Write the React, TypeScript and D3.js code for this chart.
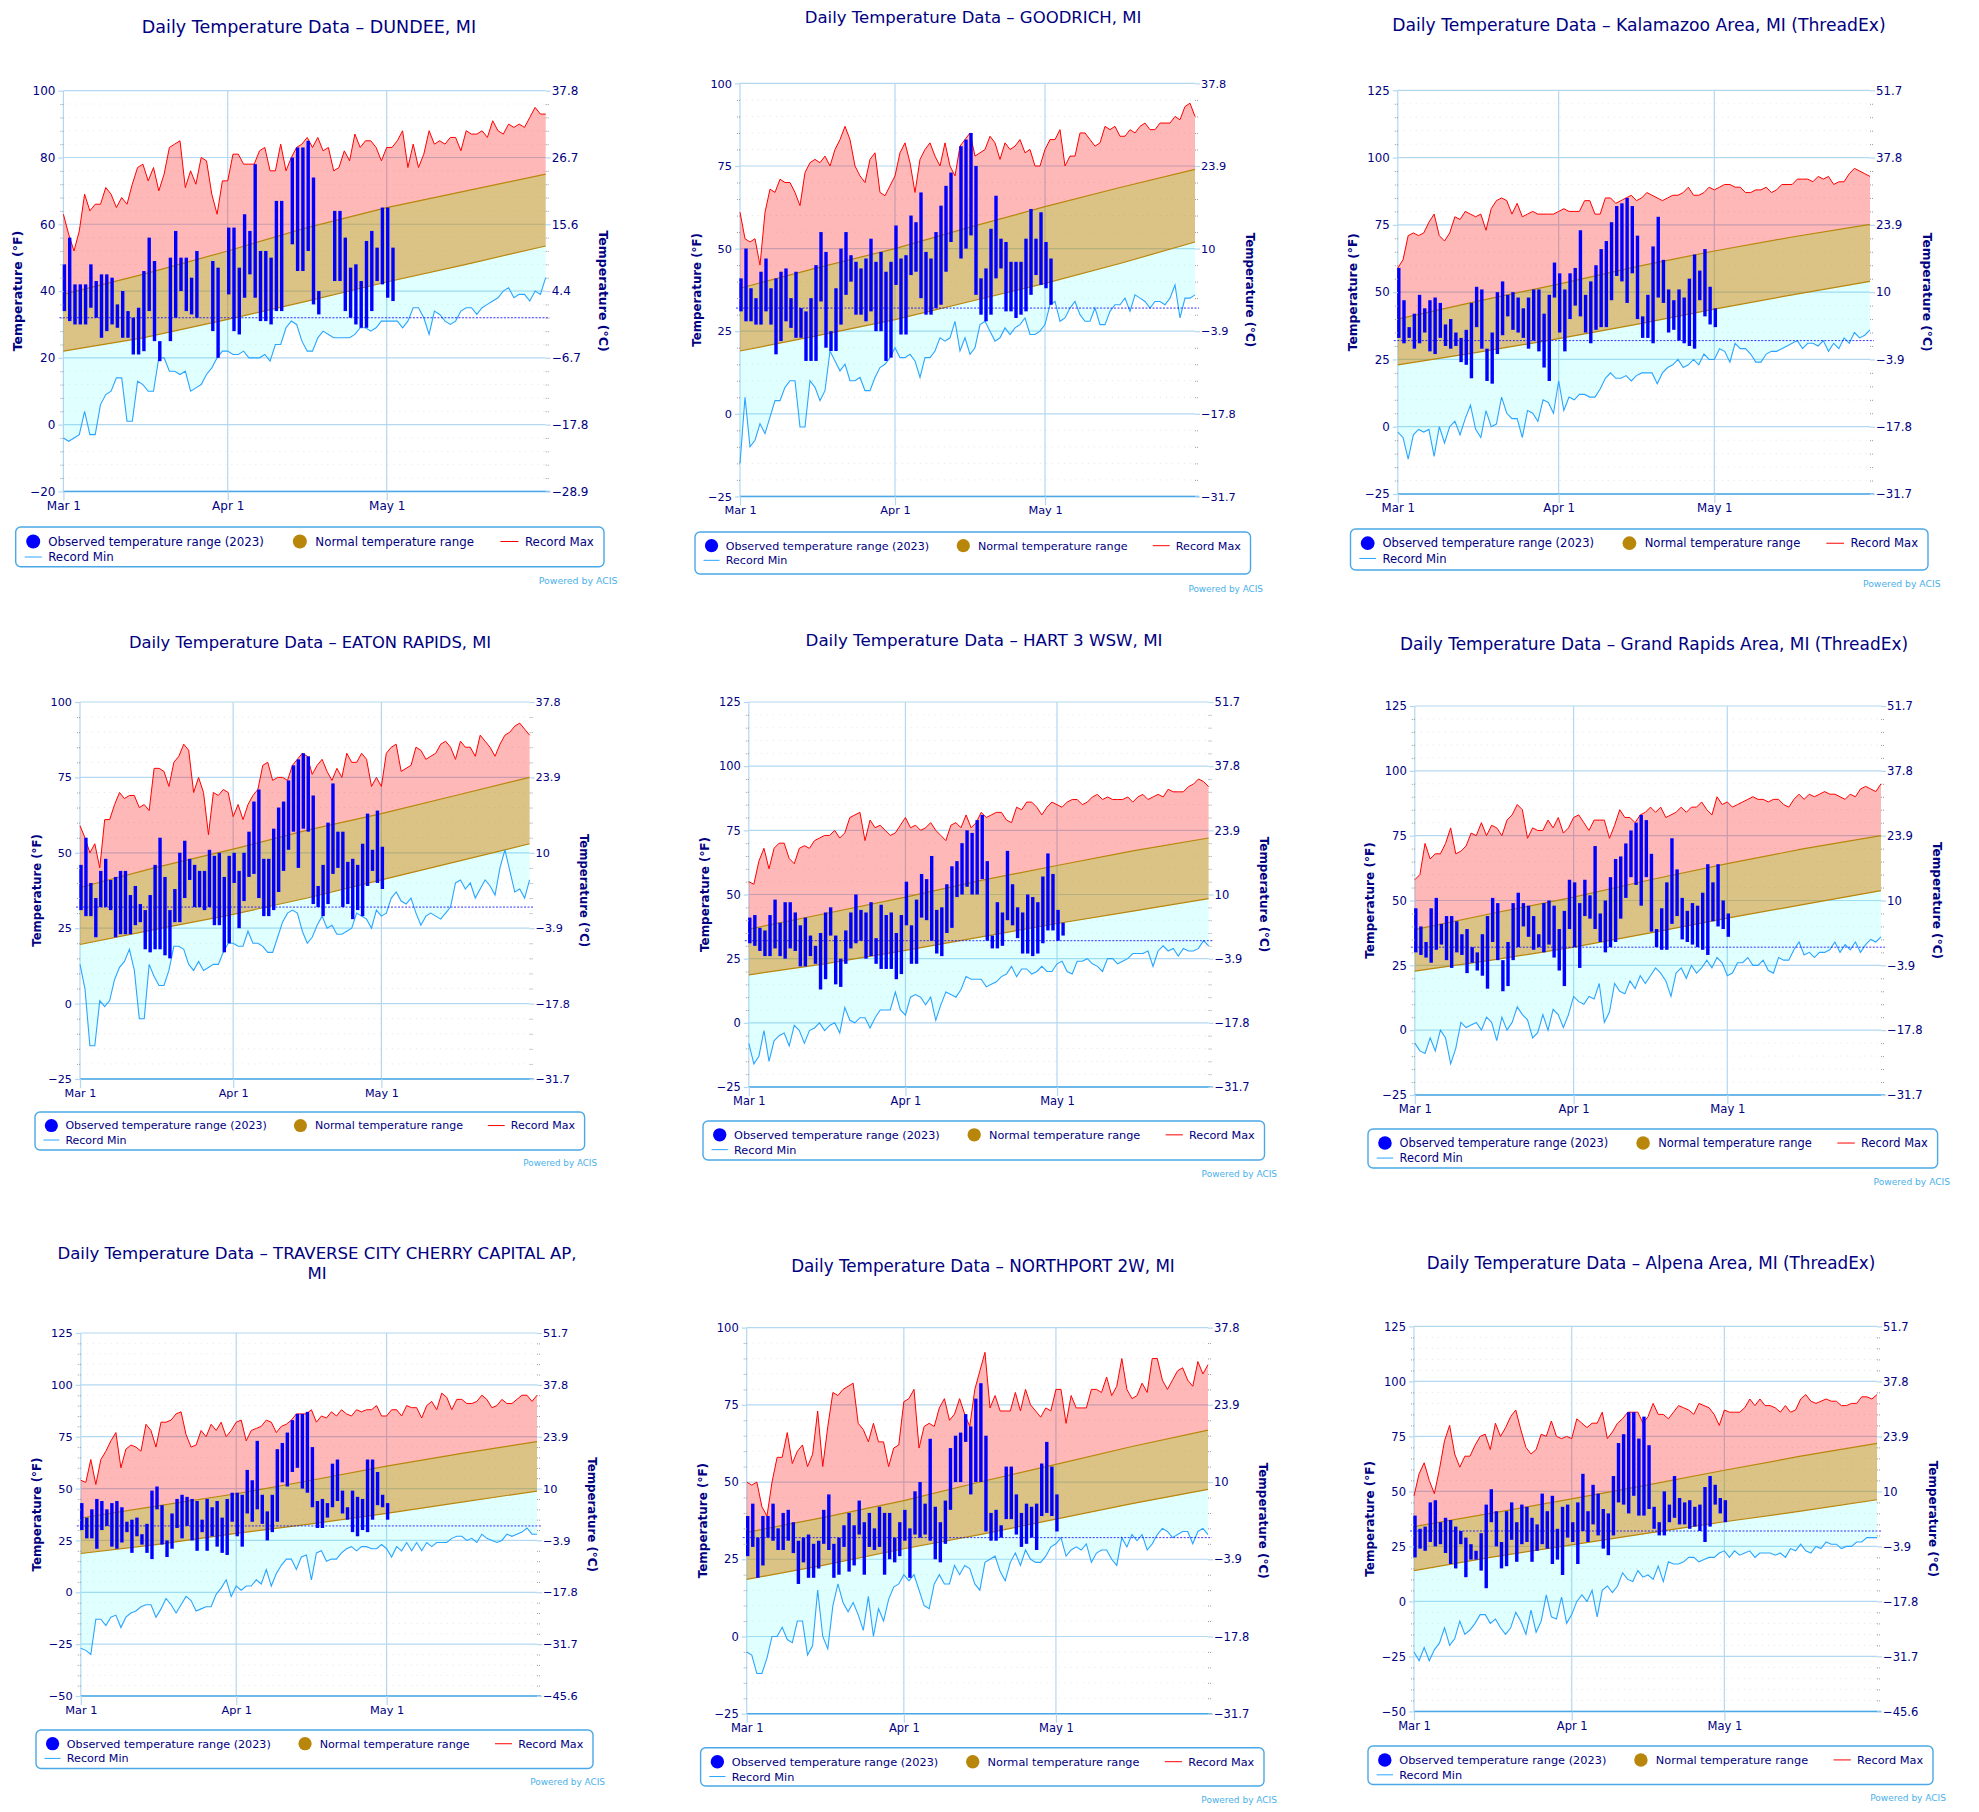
import React, { useRef, useEffect } from 'react';
import * as d3 from 'd3';

// normals are read at these day indexes (0 = Mar 1, 91 = May 31)
const normalDays = [0, 15, 31, 46, 61, 76, 91];
const dateTickDays = [0, 31, 61];
const dateTickLabels = ['Mar 1', 'Apr 1', 'May 1'];

const dundeeMax = [63,57,52,58,69,64,66,66,71,69,65,68,66,72,77,78,73,77,70,75,83,84,85,71,76,72,80,79,69,63,73,73,81,81,78,78,78,82,83,76,76,84,76,80,83,84,86,83,86,82,83,76,77,82,79,87,83,85,85,83,79,83,83,85,88,77,84,77,81,88,84,85,84,86,86,82,88,87,87,88,86,91,88,87,90,89,90,89,92,95,93,93];
const dundeeMin = [-4,-5,-4,-3,4,-3,-3,6,9,10,14,14,1,1,13,12,10,10,20,20,16,16,15,16,10,11,12,15,17,20,22,22,21,21,22,20,20,20,21,19,24,24,29,31,30,25,22,22,26,28,27,26,26,26,26,27,29,29,28,29,31,31,31,31,29,31,35,35,32,27,34,33,31,30,31,34,35,35,33,35,36,37,38,40,41,38,39,39,37,40,39,44];
const dundeeObsHi = [48,56,42,42,42,48,43,45,45,44,36,40,34,32,35,46,56,49,25,null,50,58,50,50,44,52,null,null,49,47,null,59,59,47,63,58,78,52,52,50,67,67,null,80,83,83,85,74,40,null,null,64,64,56,47,48,43,55,58,53,65,65,53];
const dundeeObsLo = [34,31,30,30,30,35,32,26,28,30,29,26,26,21,21,22,34,25,19,null,25,32,40,34,33,32,null,null,28,20,null,39,28,27,38,45,38,31,31,30,34,34,null,54,46,46,52,36,33,null,null,43,43,34,32,30,29,29,34,43,42,38,37];
const dundeeNormHi = [39,45,52,59,65,70,75];
const dundeeNormLo = [22,26,31.5,37,42.7,48,53.5];

const goodrichMax = [61,53,52,53,45,61,68,67,71,70,70,67,63,73,76,77,76,78,75,80,83,87,83,75,72,70,77,79,67,66,69,72,79,82,76,67,77,80,82,78,75,82,75,72,81,83,85,78,79,80,84,82,77,82,80,81,83,79,80,75,75,80,83,83,86,75,78,78,85,85,83,81,82,87,86,87,84,84,86,85,87,88,86,86,88,88,88,90,89,93,94,90];
const goodrichMin = [-15,5,-10,-8,-3,-6,-1,4,4,8,10,10,-4,-4,10,8,4,7,19,16,13,15,10,10,11,7,7,11,14,15,17,20,17,17,18,16,11,17,17,19,23,22,23,28,19,23,18,20,27,28,25,22,23,26,24,26,27,29,24,24,25,27,33,34,28,29,32,34,30,28,28,32,27,27,31,33,33,35,31,36,35,34,32,34,34,33,35,39,29,35,35,36];
const goodrichObsHi = [41,50,38,35,43,47,38,41,43,44,35,43,32,31,35,45,55,49,25,38,50,55,48,46,44,47,53,46,49,43,46,57,47,48,60,58,67,49,47,55,63,69,73,null,81,83,85,75,41,44,56,66,53,52,46,46,46,53,62,53,61,52,47];
const goodrichObsLo = [31,28,28,27,27,31,27,18,22,28,26,23,23,16,16,16,34,20,19,19,27,36,40,30,30,28,31,25,25,16,17,39,24,24,42,43,35,30,30,32,33,43,52,null,47,50,54,36,30,28,30,41,44,31,31,29,30,31,36,42,39,38,33];
const goodrichNormHi = [38,44,50,56.5,62.7,68.5,74];
const goodrichNormLo = [19,23.5,28.5,34,39.5,45.5,52];

const kalamazooMax = [59,62,71,72,71,72,76,79,71,69,72,78,77,80,79,78,79,73,81,84,85,84,79,83,78,79,80,79,79,79,79,80,81,80,80,80,84,84,79,79,85,85,83,84,85,86,84,85,87,86,85,84,85,86,86,87,89,86,86,87,89,88,89,90,90,89,89,87,87,88,88,89,87,88,90,90,90,92,92,92,91,93,92,93,90,91,91,94,96,95,94,93];
const kalamazooMin = [-2,-4,-12,-3,-1,-2,-1,-11,0,-6,0,2,-3,3,8,-1,-4,6,0,1,11,5,3,3,-4,6,5,2,10,9,5,17,6,11,10,12,12,11,11,14,18,20,18,18,19,17,19,20,20,20,16,20,22,23,25,22,23,25,23,27,25,25,29,28,24,31,29,29,27,24,24,27,28,28,29,30,31,32,29,31,31,30,32,28,31,29,33,31,35,33,34,36];
const kalamazooObsHi = [59,47,37,42,49,44,47,48,46,38,40,35,33,36,46,52,51,29,35,50,54,49,50,48,44,48,51,51,42,49,61,57,51,57,59,73,49,54,60,66,69,76,82,83,85,82,71,41,49,67,78,62,51,47,51,48,55,64,58,66,52,44];
const kalamazooObsLo = [33,31,33,29,31,35,28,27,33,30,29,30,24,23,18,37,29,17,16,27,34,41,36,35,33,29,32,28,22,17,48,35,28,40,45,41,35,31,36,37,37,47,56,54,46,57,40,33,33,31,48,46,35,36,32,31,30,29,47,41,38,37];
const kalamazooNormHi = [40,46.5,53,59.5,65.3,70.5,75.2];
const kalamazooNormLo = [23,27.5,32.7,38,43.7,49,54];

const eatonMax = [59,55,50,53,45,61,61,66,70,68,69,69,65,66,64,78,78,77,72,80,82,86,84,70,75,70,56,70,69,71,70,62,66,61,66,69,71,79,80,74,75,75,74,79,81,83,82,76,79,81,77,74,78,75,83,80,80,83,81,72,75,72,83,85,86,77,78,79,85,84,81,82,83,86,87,85,81,87,85,85,82,89,87,85,82,86,89,90,92,93,91,89];
const eatonMin = [13,5,-14,-14,1,-1,1,8,12,14,18,11,-5,-5,13,9,6,6,11,19,19,18,13,11,14,11,12,13,13,17,20,20,19,19,24,20,20,19,17,17,22,27,30,31,30,24,20,22,26,29,25,26,23,23,24,25,30,29,28,25,31,29,30,35,37,34,33,35,30,26,29,30,29,28,30,32,40,41,38,40,35,38,41,39,36,45,51,44,37,38,35,41];
const eatonObsHi = [46,55,40,35,44,48,41,42,44,44,36,39,33,31,36,46,55,42,31,38,50,54,48,46,44,44,51,49,50,42,49,50,44,50,57,67,71,48,48,58,65,67,74,79,81,83,82,69,39,46,60,73,57,57,47,48,46,53,63,51,64,52];
const eatonObsLo = [31,29,29,22,32,32,31,22,23,23,23,26,27,18,17,18,18,16,15,27,27,35,41,32,32,31,32,26,26,17,20,40,25,34,42,43,35,29,29,31,37,44,51,57,45,58,57,33,32,29,33,43,45,32,33,28,31,29,39,44,40,38];
const eatonNormHi = [38.5,45,51.2,57.5,63,69,75];
const eatonNormLo = [19.6,24.5,29.6,35,41,47,53];

const hartMax = [55,54,63,68,60,68,70,70,64,62,68,69,68,71,72,73,73,75,72,74,80,81,82,71,79,76,77,75,73,74,77,80,76,77,75,76,78,75,73,71,77,78,76,81,76,78,82,80,81,82,82,79,78,84,83,86,86,84,81,84,86,85,84,86,87,87,85,86,88,89,87,88,87,87,87,88,86,88,89,87,88,89,88,91,90,90,90,92,93,95,94,92];
const hartMin = [-8,-16,-13,-3,-15,-7,-5,-4,-9,-1,-3,-8,-3,-2,0,-3,-1,0,-4,6,1,0,2,2,-2,2,5,5,5,12,5,3,10,11,10,7,10,1,7,12,11,10,13,18,17,17,17,14,15,16,18,19,22,18,21,21,19,20,22,20,20,23,24,20,19,24,24,25,23,22,20,25,25,23,24,25,27,27,27,28,22,28,30,28,29,26,29,28,28,29,32,30];
const hartObsHi = [41,42,37,36,42,48,39,47,47,43,38,41,34,30,35,43,45,34,25,36,43,50,44,43,47,33,46,42,43,35,42,55,38,48,58,56,65,44,45,54,61,63,70,75,74,79,81,63,34,47,43,67,54,45,43,50,49,47,57,66,58,44,39];
const hartObsLo = [31,30,28,26,26,29,26,25,29,28,22,22,26,23,13,17,34,15,14,23,29,31,32,25,26,23,21,21,21,17,19,38,23,23,41,40,32,27,26,35,37,49,50,53,50,50,56,32,29,29,30,40,38,33,27,27,26,27,31,36,36,32,34];
const hartNormHi = [36.5,42.5,49,55.5,61.3,67,72];
const hartNormLo = [18.7,23,28.2,33.5,38.7,43.5,48.4];

const grandRapidsMax = [58,60,72,66,68,68,72,78,68,69,71,76,75,80,75,79,78,75,81,83,87,85,74,78,77,77,81,78,82,76,78,82,83,80,77,81,81,81,74,79,85,82,82,80,83,84,86,84,86,82,83,84,86,84,86,86,88,85,83,90,87,88,86,87,88,89,90,89,89,88,89,89,87,86,89,91,89,91,90,91,92,91,91,90,89,91,90,93,94,93,92,95];
const grandRapidsMin = [-5,-8,-9,-3,-8,0,-3,-13,-7,3,1,2,3,0,5,3,-4,5,0,3,9,6,4,-3,-1,6,0,8,6,1,6,13,11,10,13,12,18,3,7,18,15,14,19,16,21,18,21,24,22,19,13,22,24,20,25,22,24,27,24,28,26,21,22,26,26,28,25,25,27,23,22,28,27,27,31,34,29,30,28,30,30,31,34,30,33,31,34,30,33,35,34,36];
const grandRapidsObsHi = [47,40,34,47,51,41,44,44,42,37,39,32,30,37,44,51,49,27,34,49,53,49,48,44,37,49,50,48,39,46,58,57,49,58,52,71,45,50,59,66,67,72,77,80,83,81,68,39,47,57,74,62,51,46,49,48,53,64,57,64,50,45];
const grandRapidsObsLo = [30,29,28,26,31,33,27,24,30,29,22,26,23,21,16,34,27,15,17,27,32,40,36,31,32,30,33,28,23,17,39,32,24,44,43,39,34,30,32,34,43,51,59,56,48,59,38,32,31,31,41,44,35,34,33,32,31,29,42,40,39,36];
const grandRapidsNormHi = [38.8,45,51.3,58,64.2,70,75];
const grandRapidsNormLo = [22.8,27,32,37.5,43.2,48.5,53.8];

const traverseMax = [54,53,64,52,64,68,73,77,60,69,71,70,68,81,78,70,82,82,83,86,87,76,70,71,78,75,81,78,82,75,78,82,83,73,78,79,80,83,82,77,80,81,83,86,86,86,88,82,85,84,87,85,88,86,85,88,87,88,88,90,85,85,88,88,85,90,89,89,84,90,92,88,96,94,88,93,93,91,91,92,95,93,89,90,93,91,91,93,95,95,92,95];
const traverseMin = [-27,-28,-30,-13,-13,-16,-12,-11,-17,-12,-10,-9,-7,-6,-6,-12,-8,-3,-6,-10,-6,-2,-4,-9,-8,-7,-7,-1,2,6,-2,3,1,3,3,6,4,11,3,9,13,16,16,11,17,18,6,19,20,15,16,16,19,21,22,20,22,22,21,21,23,21,17,22,20,24,20,24,20,24,22,24,24,24,26,27,27,25,26,24,28,26,25,24,25,28,27,28,29,31,28,28];
const traverseObsHi = [43,36,40,45,44,40,43,44,41,34,35,36,28,33,49,51,42,25,38,45,47,46,45,44,35,45,41,44,36,45,48,48,47,59,54,73,47,39,47,69,72,77,83,86,86,87,70,44,45,43,62,64,49,41,49,46,45,64,64,58,47,43];
const traverseObsLo = [30,26,26,21,30,32,22,21,24,29,19,27,23,19,16,40,23,17,21,31,26,32,25,20,29,20,27,22,19,18,34,27,22,38,34,40,33,25,29,34,53,51,58,60,50,48,41,31,31,36,41,44,38,35,29,27,30,29,35,42,41,35];
const traverseNormHi = [35.8,41.5,47.5,54,60.8,67,72.6];
const traverseNormLo = [18.7,23,28.4,33,38,43.5,48.8];

const northportMax = [50,49,50,42,39,50,58,58,66,56,60,62,55,59,73,55,68,79,78,80,81,82,69,67,63,69,63,63,55,61,62,76,77,80,61,68,69,68,74,77,70,72,77,72,68,80,86,92,74,78,73,73,73,79,73,80,75,73,71,74,73,80,80,69,78,74,74,74,80,80,79,84,78,81,90,80,77,78,82,79,90,90,83,80,83,86,87,83,81,89,85,88];
const northportMin = [-5,-6,-12,-12,-7,0,0,3,-1,-2,5,5,-6,-3,15,0,-4,10,17,11,8,11,7,2,13,0,9,5,12,16,17,20,18,20,15,10,9,17,20,17,17,23,20,23,22,17,15,24,25,26,21,18,24,27,23,28,25,24,24,26,29,30,32,26,28,29,28,30,24,27,28,28,25,23,32,29,33,31,33,28,30,33,35,34,32,33,34,34,30,34,35,33];
const northportObsHi = [39,43,32,39,39,43,35,40,41,37,31,32,33,30,31,41,46,30,32,36,40,36,44,37,40,35,42,40,40,32,37,41,35,47,50,43,64,42,37,44,61,65,66,72,68,77,82,65,40,41,36,55,55,46,40,43,42,43,56,63,55,46];
const northportObsLo = [26,29,19,23,32,31,28,28,31,27,17,24,19,19,22,30,28,19,20,29,21,23,33,20,29,28,29,20,25,24,26,31,19,33,32,33,31,25,24,30,41,50,50,63,46,50,50,34,31,31,32,38,38,33,29,30,32,28,39,40,39,34];
const northportNormHi = [33.7,38.5,44,50,55.7,61.5,66.8];
const northportNormLo = [18.5,23,28.4,33,38,43,47.6];

const alpenaMax = [48,58,63,55,49,60,73,80,67,61,66,66,71,75,76,69,81,75,79,84,87,78,70,67,69,76,75,82,75,74,75,74,83,81,79,81,81,86,74,77,81,83,86,86,86,81,84,90,85,85,83,86,89,88,87,85,90,89,88,85,80,87,86,86,86,88,92,89,92,89,89,88,86,89,86,87,92,94,91,90,91,92,91,91,89,89,90,90,93,93,92,94];
const alpenaMin = [-23,-27,-21,-27,-22,-19,-12,-20,-17,-9,-15,-13,-10,-6,-6,-10,-8,-12,-15,-12,-5,-9,-15,-4,-14,-9,3,-7,-8,2,-10,-6,0,3,0,5,-7,5,7,4,7,13,10,9,14,11,12,10,16,9,18,17,17,18,20,20,18,19,20,20,22,23,20,23,21,22,23,20,22,22,22,21,22,20,24,23,26,23,22,25,24,27,26,26,24,25,25,27,27,29,29,29];
const alpenaObsHi = [39,33,34,45,46,36,38,37,34,32,29,26,23,31,44,51,41,27,41,45,36,44,43,38,35,49,41,48,33,43,44,36,45,58,41,53,49,42,40,57,72,76,86,86,74,84,71,43,36,50,44,57,47,45,46,43,44,52,57,53,47,46];
const alpenaObsLo = [20,24,23,27,25,26,22,17,15,26,11,19,19,14,6,36,25,15,16,28,18,26,27,18,23,26,24,17,19,12,29,27,17,32,27,35,30,24,21,30,45,44,40,48,39,39,42,33,30,30,36,38,35,35,33,34,32,27,34,44,40,36];
const alpenaNormHi = [34,40,46.6,53,59.6,66,71.8];
const alpenaNormLo = [14,20,25.7,31,36.2,41,46.2];

// page position of every chart
const panels = [
  { title: ['Daily Temperature Data – DUNDEE, MI'], ty: [27], tx: 309, domain: [-20, 100], step: 20, plot: [63.4, 90.7, 545.7, 491.4], legend: [15.7, 527, 604, 566.8], acis: [617.6, 581], max: dundeeMax, min: dundeeMin, hi: dundeeObsHi, lo: dundeeObsLo, nHi: dundeeNormHi, nLo: dundeeNormLo },
  { title: ['Daily Temperature Data – GOODRICH, MI'], ty: [17.6], tx: 973, domain: [-25, 100], step: 25, plot: [740, 83.4, 1195, 496.4], legend: [695, 532, 1250.5, 574], acis: [1263, 588.6], max: goodrichMax, min: goodrichMin, hi: goodrichObsHi, lo: goodrichObsLo, nHi: goodrichNormHi, nLo: goodrichNormLo },
  { title: ['Daily Temperature Data – Kalamazoo Area, MI (ThreadEx)'], ty: [25], tx: 1639, domain: [-25, 125], step: 25, plot: [1397.8, 90.3, 1870, 494], legend: [1350.5, 529, 1928, 570], acis: [1940.5, 584], max: kalamazooMax, min: kalamazooMin, hi: kalamazooObsHi, lo: kalamazooObsLo, nHi: kalamazooNormHi, nLo: kalamazooNormLo },
  { title: ['Daily Temperature Data – EATON RAPIDS, MI'], ty: [642], tx: 310, domain: [-25, 100], step: 25, plot: [80, 702, 529.6, 1079], legend: [35, 1112, 584.6, 1150], acis: [597, 1163], max: eatonMax, min: eatonMin, hi: eatonObsHi, lo: eatonObsLo, nHi: eatonNormHi, nLo: eatonNormLo },
  { title: ['Daily Temperature Data – HART 3 WSW, MI'], ty: [640.6], tx: 984, domain: [-25, 125], step: 25, plot: [748.8, 702, 1208.6, 1087], legend: [703, 1121, 1264.5, 1160], acis: [1277, 1174], max: hartMax, min: hartMin, hi: hartObsHi, lo: hartObsLo, nHi: hartNormHi, nLo: hartNormLo },
  { title: ['Daily Temperature Data – Grand Rapids Area, MI (ThreadEx)'], ty: [643.7], tx: 1654, domain: [-25, 125], step: 25, plot: [1414.8, 706, 1881, 1095], legend: [1368, 1129, 1937.6, 1168], acis: [1950, 1182], max: grandRapidsMax, min: grandRapidsMin, hi: grandRapidsObsHi, lo: grandRapidsObsLo, nHi: grandRapidsNormHi, nLo: grandRapidsNormLo },
  { title: ['Daily Temperature Data – TRAVERSE CITY CHERRY CAPITAL AP,', 'MI'], ty: [1253, 1273], tx: 317, domain: [-50, 125], step: 25, plot: [80.8, 1333, 537, 1696], legend: [36, 1730, 593, 1768.5], acis: [605, 1782], max: traverseMax, min: traverseMin, hi: traverseObsHi, lo: traverseObsLo, nHi: traverseNormHi, nLo: traverseNormLo },
  { title: ['Daily Temperature Data – NORTHPORT 2W, MI'], ty: [1266], tx: 983, domain: [-25, 100], step: 25, plot: [746.7, 1327.6, 1208, 1713.7], legend: [700.6, 1747.8, 1264, 1786], acis: [1277, 1800], max: northportMax, min: northportMin, hi: northportObsHi, lo: northportObsLo, nHi: northportNormHi, nLo: northportNormLo },
  { title: ['Daily Temperature Data – Alpena Area, MI (ThreadEx)'], ty: [1263], tx: 1651, domain: [-50, 125], step: 25, plot: [1414, 1326.4, 1877, 1711.4], legend: [1368, 1746, 1933, 1784.5], acis: [1946, 1798], max: alpenaMax, min: alpenaMin, hi: alpenaObsHi, lo: alpenaObsLo, nHi: alpenaNormHi, nLo: alpenaNormLo },
];

const NAVY = '#000080';
const GRID = '#b4d8f0';
const EDGE = '#4aa8e6';
const FONT = '"DejaVu Sans", sans-serif';

const minus = (s: string) => s.replace('-', '\u2212');
const toC = (f: number) => minus(String(+((f - 32) * 5 / 9).toFixed(1)));

const drawPanel = (svg: any, p: any) => {
  const [left, top, right, bottom] = p.plot;
  const s = (p.legend[2] - p.legend[0]) / 588;
  const x = d3.scaleLinear().domain([0, 91]).range([left, right]);
  const y = d3.scaleLinear().domain(p.domain).range([bottom, top]);
  const majors = d3.range(p.domain[0], p.domain[1] + 1, p.step);
  const minors = d3.range(p.domain[0], p.domain[1] + 1, p.step / 5).filter(v => !majors.includes(v));
  const g = svg.append('g');

  // dotted minor grid + major grid
  g.append('g').selectAll('line').data(minors).enter().append('line')
    .attr('x1', left).attr('x2', right).attr('y1', d => y(d)).attr('y2', d => y(d))
    .attr('stroke', '#e6e6e6').attr('stroke-dasharray', '1,5');
  g.append('g').selectAll('line').data(majors).enter().append('line')
    .attr('x1', left).attr('x2', right).attr('y1', d => y(d)).attr('y2', d => y(d))
    .attr('stroke', GRID).attr('stroke-width', 1.2);
  g.append('g').selectAll('line').data(dateTickDays).enter().append('line')
    .attr('x1', d => x(d)).attr('x2', d => x(d)).attr('y1', top).attr('y2', bottom)
    .attr('stroke', GRID).attr('stroke-width', 1.2);

  const line = d3.line();
  const dayPts = (vals: number[]) => vals.map((v, i) => [x(i), y(v)]);
  const normPts = (vals: number[]) => vals.map((v, i) => [x(normalDays[i]), y(v)]);

  g.append('path').attr('d', line([...dayPts(p.max), ...normPts(p.nHi).reverse()]) + 'Z')
    .attr('fill', '#ff0000').attr('fill-opacity', 0.28);
  g.append('path').attr('d', line([...dayPts(p.min), ...normPts(p.nLo).reverse()]) + 'Z')
    .attr('fill', '#00ffff').attr('fill-opacity', 0.12);
  g.append('path').attr('d', line([...normPts(p.nHi), ...normPts(p.nLo).reverse()]) + 'Z')
    .attr('fill', '#b8860b').attr('fill-opacity', 0.5);
  g.append('path').attr('d', line(normPts(p.nHi))).attr('fill', 'none').attr('stroke', '#b8860b').attr('stroke-width', 1.2);
  g.append('path').attr('d', line(normPts(p.nLo))).attr('fill', 'none').attr('stroke', '#b8860b').attr('stroke-width', 1.2);
  g.append('path').attr('d', line(dayPts(p.max))).attr('fill', 'none').attr('stroke', '#ff0000').attr('stroke-width', 1);
  g.append('path').attr('d', line(dayPts(p.min))).attr('fill', 'none').attr('stroke', '#2aa5ff').attr('stroke-width', 1.1);

  // freezing line
  g.append('line').attr('x1', left - 4).attr('x2', right + 4).attr('y1', y(32)).attr('y2', y(32))
    .attr('stroke', '#0000ff').attr('stroke-opacity', 0.8).attr('stroke-dasharray', '2,1.5');

  // bottom line is stronger than the rest of the grid
  g.append('line').attr('x1', left).attr('x2', right + 4).attr('y1', bottom).attr('y2', bottom)
    .attr('stroke', EDGE).attr('stroke-width', 1.5);

  const bars = p.hi.map((h, i) => ({ i, h, l: p.lo[i] })).filter(d => d.h !== null);
  g.append('g').selectAll('rect').data(bars).enter().append('rect')
    .attr('x', d => x(d.i) - 0.7).attr('width', 3.4)
    .attr('y', d => y(d.h)).attr('height', d => y(d.l) - y(d.h))
    .attr('fill', '#0000ff');

  // axes
  const styleAxis = (a: any, size: number) => {
    a.select('.domain').remove();
    a.selectAll('line').attr('stroke', GRID).attr('stroke-width', 1.2);
    a.selectAll('text').attr('fill', NAVY).attr('font-family', FONT).attr('font-size', size);
  };
  const fs = 12 * s;
  const yl = g.append('g').attr('transform', `translate(${left},0)`)
    .call(d3.axisLeft(y).tickValues(majors).tickSize(5).tickPadding(3).tickFormat(d => minus(String(d))));
  styleAxis(yl, fs);
  const yr = g.append('g').attr('transform', `translate(${right},0)`)
    .call(d3.axisRight(y).tickValues(majors).tickSize(5).tickPadding(1).tickFormat(d => toC(+d)));
  styleAxis(yr, fs);
  const xa = g.append('g').attr('transform', `translate(0,${bottom})`)
    .call(d3.axisBottom(x).tickValues(dateTickDays).tickSize(9).tickPadding(1).tickFormat((d, i) => dateTickLabels[i]));
  styleAxis(xa, fs);

  // minor tick dashes on both sides
  [d3.axisLeft(y), d3.axisRight(y)].forEach((ax, k) => {
    const m = g.append('g').attr('transform', `translate(${k ? right : left},0)`)
      .call(ax.tickValues(minors).tickSize(3).tickFormat(() => ''));
    m.select('.domain').remove();
    m.selectAll('line').attr('stroke', '#999').attr('stroke-dasharray', '1,1');
  });

  const midY = (top + bottom) / 2;
  g.append('text').attr('transform', `translate(${left - 46 * s},${midY}) rotate(-90)`)
    .attr('text-anchor', 'middle').attr('dy', '0.35em')
    .attr('fill', NAVY).attr('font-family', FONT).attr('font-weight', 'bold').attr('font-size', 12.5 * s)
    .text('Temperature (°F)');
  g.append('text').attr('transform', `translate(${right + 58 * s},${midY}) rotate(90)`)
    .attr('text-anchor', 'middle').attr('dy', '0.35em')
    .attr('fill', NAVY).attr('font-family', FONT).attr('font-weight', 'bold').attr('font-size', 12.5 * s)
    .text('Temperature (°C)');

  p.title.forEach((t: string, i: number) => {
    g.append('text').attr('x', p.tx).attr('y', p.ty[i]).attr('dy', '0.35em')
      .attr('text-anchor', 'middle').attr('fill', NAVY).attr('font-family', FONT).attr('font-size', 17.5 * s)
      .text(t);
  });

  // legend
  const [ll, lt, lr, lb] = p.legend;
  g.append('rect').attr('x', ll).attr('y', lt).attr('width', lr - ll).attr('height', lb - lt)
    .attr('rx', 5).attr('fill', '#fff').attr('stroke', EDGE).attr('stroke-width', 1.4);
  const row1 = lt + 14.5 * s;
  const row2 = lt + 30 * s;
  const lgText = (tx: number, ty: number, t: string) =>
    g.append('text').attr('x', ll + tx * s).attr('y', ty).attr('dy', '0.35em')
      .attr('fill', NAVY).attr('font-family', FONT).attr('font-size', 11.8 * s).text(t);
  g.append('circle').attr('cx', ll + 17.5 * s).attr('cy', row1).attr('r', 7 * s).attr('fill', '#0000ff');
  lgText(32.5, row1, 'Observed temperature range (2023)');
  g.append('circle').attr('cx', ll + 284 * s).attr('cy', row1).attr('r', 7 * s).attr('fill', '#b8860b');
  lgText(299.5, row1, 'Normal temperature range');
  g.append('line').attr('x1', ll + 484.5 * s).attr('x2', ll + 502.5 * s).attr('y1', row1).attr('y2', row1).attr('stroke', '#ff0000');
  lgText(509, row1, 'Record Max');
  g.append('line').attr('x1', ll + 9 * s).attr('x2', ll + 26 * s).attr('y1', row2).attr('y2', row2).attr('stroke', '#2aa5ff');
  lgText(32.5, row2, 'Record Min');

  g.append('text').attr('x', p.acis[0]).attr('y', p.acis[1]).attr('dy', '0.35em').attr('text-anchor', 'end')
    .attr('fill', '#4ab0ea').attr('font-family', FONT).attr('font-size', 9.4 * s).text('Powered by ACIS');
};

const App: React.FC = () => {
  const svgRef = useRef<SVGSVGElement | null>(null);

  useEffect(() => {
    const svg = d3.select(svgRef.current);
    svg.selectAll('*').remove();
    panels.forEach(p => drawPanel(svg, p));
  }, []);

  return (
    <svg
      ref={svgRef}
      width={1979}
      height={1812}
      style={{ position: 'absolute', left: 0, top: 0, display: 'block', background: '#fff' }}
    />
  );
};

export default App;
